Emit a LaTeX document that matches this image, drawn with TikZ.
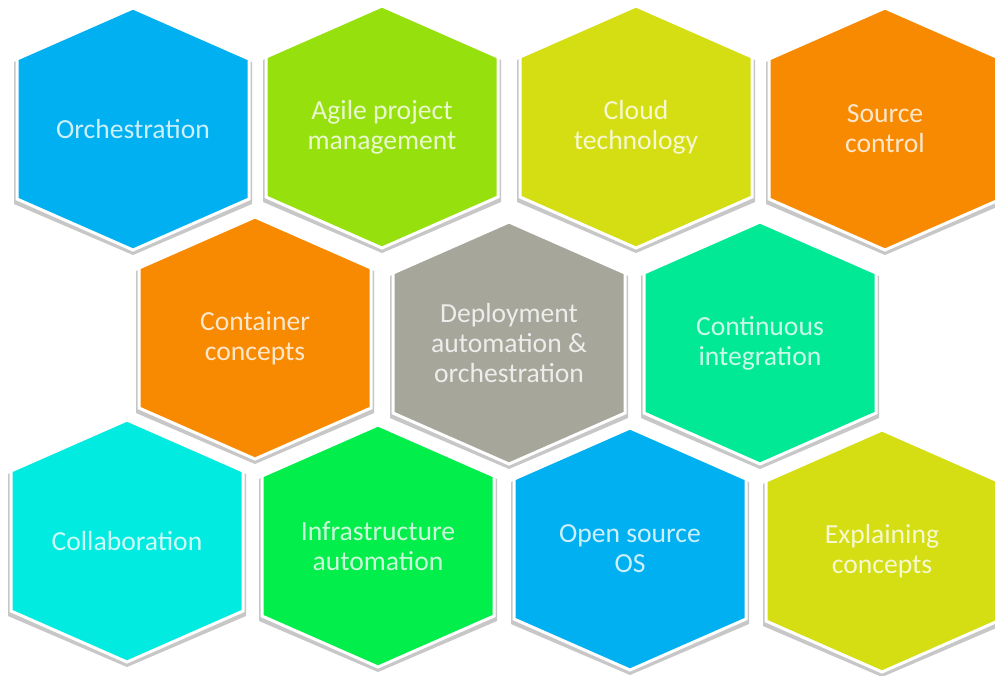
\documentclass[tikz,border=0pt]{standalone}
\usepackage{fontspec}
\setmainfont{Carlito}
\definecolor{skyblue}{HTML}{00B0F0}
\definecolor{limegreen}{HTML}{96E00E}
\definecolor{mustard}{HTML}{D4DE12}
\definecolor{tangerine}{HTML}{F78A00}
\definecolor{stonegray}{HTML}{A6A69B}
\definecolor{mint}{HTML}{02E996}
\definecolor{aqua}{HTML}{02EBE0}
\definecolor{brightgreen}{HTML}{02EE4A}
\tikzset{
  hexcell/.style={draw=white, line width=1.5pt, line join=miter},
  hexshadow/.style={fill=black!22},
  hexlabel/.style={text=white, text opacity=0.8, align=center,
    font=\fontsize{13.8}{15}\selectfont}
}
\begin{document}
\begin{tikzpicture}[x=0.5pt,y=-0.5pt]
  \useasboundingbox[fill=white] (0,0) rectangle (995,675);
  % centre x / centre y / colour / name / text
  \foreach \x/\y/\c/\n/\t in {
      133/129/skyblue/orch/Orchestration,
      382/127/limegreen/agile/{Agile project\\management},
      636/127/mustard/cloud/{Cloud\\technology},
      885/129/tangerine/source/{Source\\control},
      255/338/tangerine/container/{Container\\concepts},
      509/343/stonegray/deploy/{Deployment\\automation \&\\orchestration},
      760/343/mint/ci/{Continuous\\integration},
      127/541/aqua/collab/Collaboration,
      378/546/brightgreen/infra/{Infrastructure\\automation},
      630/549/skyblue/opensource/{Open source\\OS},
      882/551/mustard/explain/{Explaining\\concepts}}{
    \fill[hexshadow] (\x,\y-119) -- (\x+119,\y-67) -- (\x+119,\y+75)
      -- (\x,\y+126) -- (\x-119,\y+75) -- (\x-119,\y-67) -- cycle;
    \filldraw[hexcell, fill=\c] (\x,\y-121) -- (\x+116,\y-70) -- (\x+116,\y+70)
      -- (\x,\y+121) -- (\x-116,\y+70) -- (\x-116,\y-70) -- cycle;
    \node[hexlabel] (\n) at (\x,\y) {\t};
  }
\end{tikzpicture}
\end{document}
